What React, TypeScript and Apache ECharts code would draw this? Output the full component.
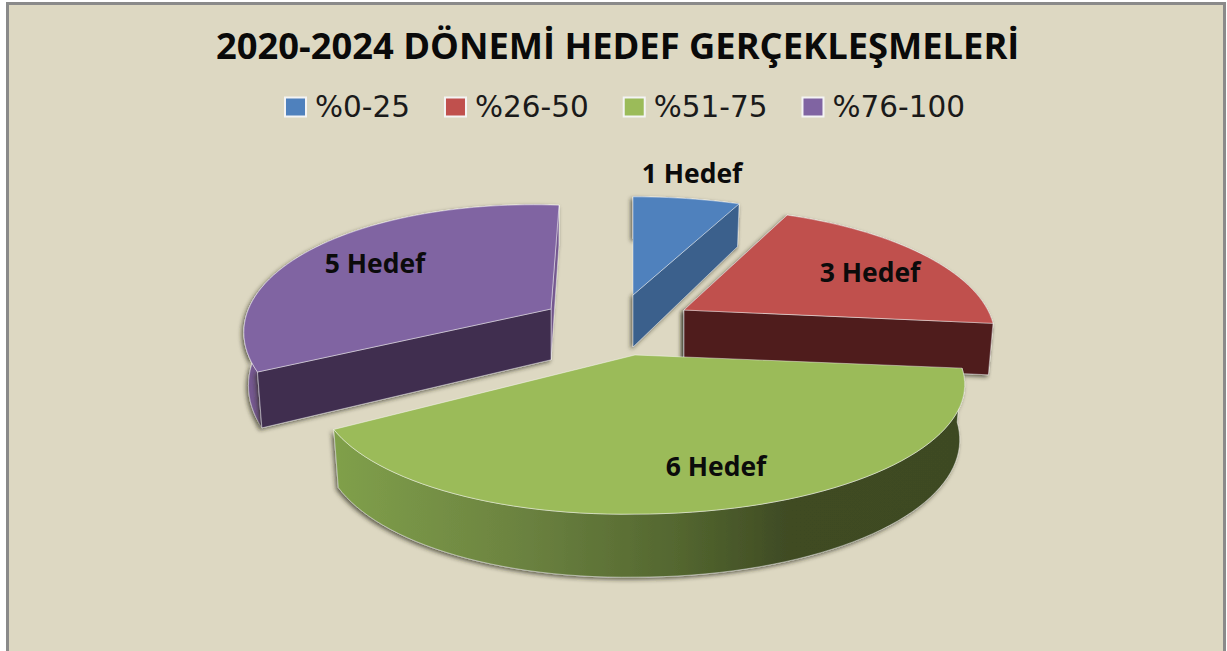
import React, { useEffect, useRef } from "react";
import * as echarts from "echarts";

const titleText = "2020-2024 DÖNEMİ HEDEF GERÇEKLEŞMELERİ";
const sliceNames = ["%0-25", "%26-50", "%51-75", "%76-100"];
const sliceValues = [1, 3, 6, 5];
const labelSuffix = "Hedef";
const topColors = ["#4f81bd", "#c0504d", "#9bbb59", "#8064a2"];
const farFaceColors = ["#3a608c", "#4f1e1f", "", "#74598f"];
const nearFaceColors = ["#3a608c", "#4f1e1f", "", "#3f2d50"];
const outerColors = ["#3a608c", "#4f1e1f", "", "#74598f"];

// layout of each exploded slice on the page
const apexX = [633, 684, 635, 551];
const apexY = [295, 310, 355, 309];
const depthShift = [-0.1, -0.25, 0, -0.22];
const heightScale = [1, 1.07, 1, 1.08];
const skewX = [0, 0, 0, -8];
const leftScale = [1, 1, 0.96, 0.975];
const leftLift = [0, 0, 6, -9];
const labelX = [692, 870, 716, 375];
const labelY = [173, 272, 466, 263];
const drawOrder = [0, 3, 1, 2];

const RX = 321;
const RY = 122.8;
const PERSP = 0.228;
const THICK = 53;

const total = sliceValues.reduce((a, b) => a + b, 0);

function project(i: number, deg: number, r: number) {
  const t = (deg * Math.PI) / 180;
  const sx = Math.sin(t) * r;
  const X = sx < 0 ? sx * leftScale[i] : sx;
  const Y = -Math.cos(t) * r; // negative at the back, positive at the front
  const p = 1 / (1 - PERSP * (Y + depthShift[i]));
  const top = [
    apexX[i] + RX * X * p + skewX[i] * Y,
    apexY[i] + RY * heightScale[i] * Y * p + leftLift[i] * Math.max(0, -sx),
  ];
  const h = THICK * (1 + 0.19 * (Y + depthShift[i]));
  const bottom = [apexX[i] + (top[0] - apexX[i]) * 0.985, top[1] + h];
  return { top, bottom };
}

function renderSlice(params: any, api: any) {
  const k = params.seriesIndex as number;
  const v = api.value(0) as number;
  let startValue = 0;
  for (let q = 0; q < k; q++) startValue += sliceValues[q];
  const a0 = (startValue / total) * 360;
  const a1 = ((startValue + v) / total) * 360;
  const topArc: number[][] = [];
  const bottomArc: number[][] = [];
  const n = Math.max(8, Math.ceil((a1 - a0) / 2));
  for (let q = 0; q <= n; q++) {
    const pt = project(k, a0 + ((a1 - a0) * q) / n, 1);
    topArc.push(pt.top);
    bottomArc.push(pt.bottom);
  }
  const c = project(k, 0, 0);
  const edge = "rgba(255,255,255,0.55)";
  const shadow = {
    shadowBlur: 4,
    shadowColor: "rgba(40,40,30,0.7)",
    shadowOffsetX: -2,
    shadowOffsetY: 2,
  };
  const outerFill: any =
    outerColors[k] ||
    new echarts.graphic.LinearGradient(0, 0, 1, 0, [
      { offset: 0, color: "#80a04a" },
      { offset: 0.3, color: "#6b8240" },
      { offset: 0.55, color: "#53662f" },
      { offset: 0.72, color: "#3f4b24" },
      { offset: 1, color: "#3e4a23" },
    ]);
  const children: any[] = [
    {
      type: "polygon",
      silent: true,
      shape: { points: [...topArc, ...bottomArc.slice().reverse()] },
      style: { fill: outerFill, stroke: edge, lineWidth: 0.8, ...shadow },
    },
  ];
  if (farFaceColors[k]) {
    // the cut edge lying nearer the viewer is painted last
    const nearIdx = topArc[0][1] > topArc[n][1] ? 0 : n;
    const farIdx = nearIdx === 0 ? n : 0;
    children.push({
      type: "polygon",
      silent: true,
      shape: { points: [c.top, topArc[farIdx], bottomArc[farIdx], c.bottom] },
      style: { fill: farFaceColors[k], stroke: edge, lineWidth: 0.8, ...shadow },
    });
    children.push({
      type: "polygon",
      silent: true,
      shape: { points: [c.top, topArc[nearIdx], bottomArc[nearIdx], c.bottom] },
      style: { fill: nearFaceColors[k], stroke: edge, lineWidth: 0.8, ...shadow },
    });
  }
  children.push({
    type: "polygon",
    silent: true,
    shape: { points: [c.top, ...topArc] },
    style: { fill: topColors[k], stroke: edge, lineWidth: 0.8 },
  });
  children.push({
    type: "text",
    silent: true,
    style: {
      text: `${v} ${labelSuffix}`,
      x: labelX[k],
      y: labelY[k],
      align: "center",
      verticalAlign: "middle",
      fontFamily: "Open Sans",
      fontWeight: "bold",
      fontSize: 26.5,
      fill: "#0b0b0b",
    },
  });
  return { type: "group", children };
}

export default function App() {
  const ref = useRef<HTMLDivElement>(null);
  useEffect(() => {
    document.body.style.margin = "0";
    document.body.style.background = "#ffffff";
    const chart = echarts.init(ref.current!, undefined, { renderer: "svg" });
    chart.setOption({
      animation: false,
      graphic: [
        {
          type: "rect",
          z: -10,
          silent: true,
          shape: { x: 7.5, y: 3.5, width: 1217, height: 660 },
          style: { fill: "#ddd8c2", stroke: "#8a8a8a", lineWidth: 3 },
        },
      ],
      title: {
        text: titleText,
        left: 211,
        top: 22,
        textStyle: {
          fontFamily: "Open Sans",
          fontWeight: "bold",
          fontSize: 36.3,
          color: "#0a0a0a",
        },
      },
      legend: {
        left: 279,
        top: 87,
        itemWidth: 21,
        itemHeight: 19,
        itemGap: 34,
        icon: "rect",
        data: sliceNames,
        textStyle: { fontFamily: "DejaVu Sans", fontSize: 29.5, color: "#1a1a1a", padding: [0, 0, 0, 4] },
        selectedMode: false,
      },
      series: sliceNames.map((name, k) => ({
        type: "custom",
        name,
        coordinateSystem: "none",
        z: 2 + drawOrder.indexOf(k),
        renderItem: renderSlice,
        itemStyle: { color: topColors[k], borderColor: "#f4f4f4", borderWidth: 1.5 },
        data: [[sliceValues[k]]],
      })),
    });
    return () => chart.dispose();
  }, []);
  return <div ref={ref} style={{ width: 1227, height: 651 }} />;
}
